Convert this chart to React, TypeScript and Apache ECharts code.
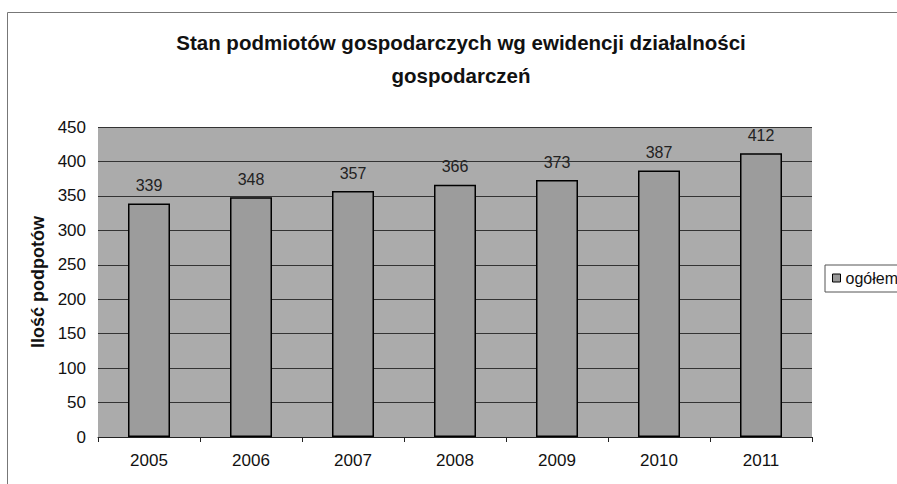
import React, { useEffect, useRef } from "react";
import * as echarts from "echarts";

const categories = ["2005", "2006", "2007", "2008", "2009", "2010", "2011"];
const values = [339, 348, 357, 366, 373, 387, 412];
const seriesName = "ogółem";
const titleText = "Stan podmiotów gospodarczych wg ewidencji działalności\ngospodarczeń";
const yAxisName = "Ilość podpotów";

export default function App() {
  const ref = useRef<HTMLDivElement>(null);
  useEffect(() => {
    if (!ref.current) return;
    const chart = echarts.init(ref.current, null, { renderer: "svg" });
    const font = "'Liberation Sans', Arial, sans-serif";
    chart.setOption({
      animation: false,
      backgroundColor: "#ffffff",
      textStyle: { fontFamily: font },
      title: {
        text: titleText,
        left: 456,
        textAlign: "center",
        top: 21,
        textStyle: { fontFamily: font, fontSize: 20.5, fontWeight: "bold", color: "#111", lineHeight: 33 },
      },
      graphic: [
        {
          type: "rect",
          shape: { x: 7.5, y: 12.5, width: 1000, height: 1000 },
          style: { fill: "none", stroke: "#777", lineWidth: 1 },
          silent: true,
        },
      ],
      legend: {
        left: 825,
        top: 265,
        orient: "vertical",
        itemWidth: 8,
        itemHeight: 8,
        itemGap: 4,
        padding: [5, 6, 6, 7],
        borderColor: "#555",
        borderWidth: 1,
        textStyle: { fontFamily: font, fontSize: 16, color: "#111" },
        data: [{ name: seriesName, icon: "rect", itemStyle: { color: "#999", borderColor: "#000", borderWidth: 1 } }],
      },
      grid: {
        left: 98,
        right: 897 - 812,
        top: 127,
        bottom: 484 - 437,
        show: true,
        backgroundColor: "#ababab",
        borderWidth: 0,
      },
      xAxis: {
        type: "category",
        data: categories,
        boundaryGap: true,
        axisLine: { lineStyle: { color: "#222", width: 1 } },
        axisTick: { show: true, length: 5, lineStyle: { color: "#222" } },
        axisLabel: { fontFamily: font, fontSize: 17, color: "#111", margin: 15 },
      },
      yAxis: {
        type: "value",
        min: 0,
        max: 450,
        interval: 50,
        name: yAxisName,
        nameLocation: "middle",
        nameGap: 47,
        nameTextStyle: { fontFamily: font, fontSize: 18, fontWeight: "bold", color: "#111" },
        axisLine: { show: false },
        axisTick: { show: false },
        axisLabel: { fontFamily: font, fontSize: 17, color: "#111", margin: 12 },
        splitLine: { show: true, lineStyle: { color: "#333", width: 1 } },
      },
      series: [
        {
          name: seriesName,
          type: "bar",
          data: values,
          barWidth: 42,
          itemStyle: { color: "#9c9c9c", borderColor: "#000", borderWidth: 1.5 },
          label: {
            show: true,
            position: "top",
            distance: 10,
            fontFamily: font,
            fontSize: 16,
            color: "#222",
          },
        },
      ],
    });
    return () => chart.dispose();
  }, []);
  return (
    <div
      ref={ref}
      style={{ position: "fixed", left: 0, top: 0, width: 897, height: 484 }}
    />
  );
}
